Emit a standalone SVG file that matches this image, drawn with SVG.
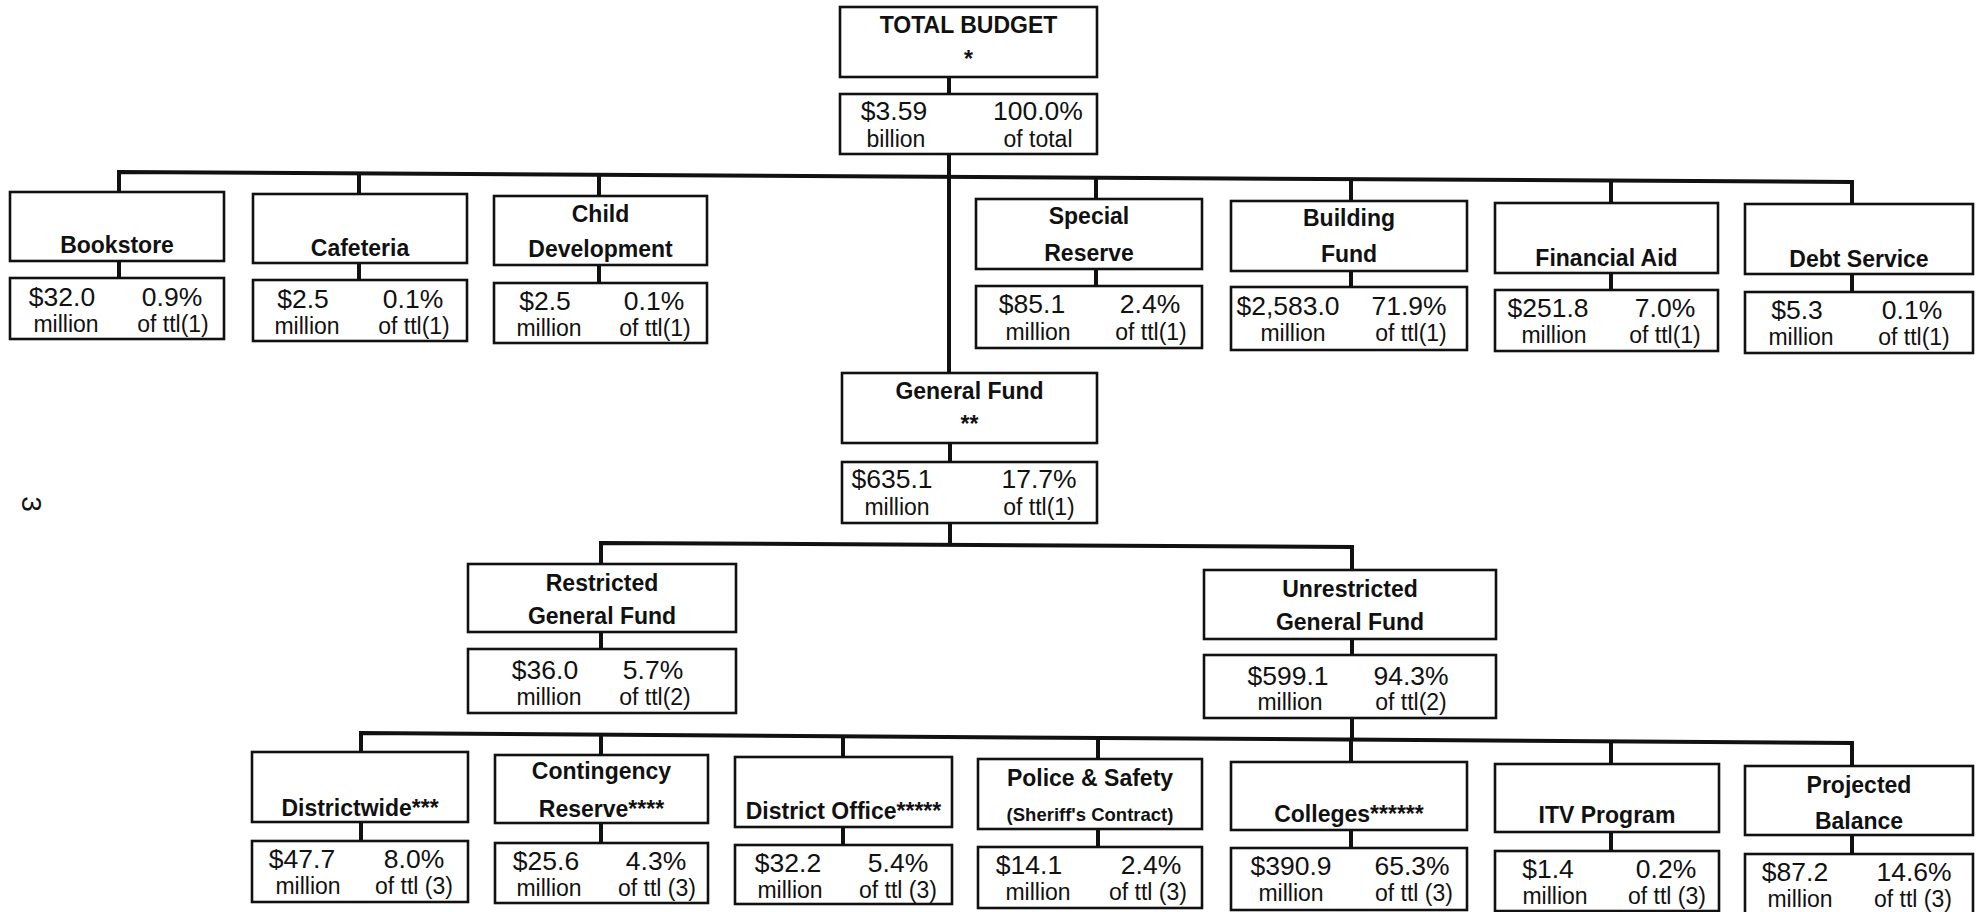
<svg xmlns="http://www.w3.org/2000/svg" width="1982" height="912" viewBox="0 0 1982 912">
<style>
.bg{fill:#fff}
.box{fill:#fff;stroke:#111;stroke-width:2.6}
.c{fill:none;stroke:#111;stroke-width:4;stroke-linejoin:miter}
text{font-family:"Liberation Sans",Arial,Helvetica,sans-serif;fill:#111;text-anchor:middle}
.t{font-weight:bold;font-size:23px}
.s{font-weight:bold;font-size:18.5px}
.v1{font-size:26.5px}
.v2{font-size:23px}
.pg{font-size:28px}
</style>
<rect class="bg" x="0" y="0" width="1982" height="912"/>

<g id="connectors">
  <path class="c" d="M949,77 V94"/>
  <path class="c" d="M949,154 V373"/>
  <path class="c" d="M119,192 V172 L1852,182 V204"/>
  <path class="c" d="M359,173.4 V194"/>
  <path class="c" d="M599,174.8 V196"/>
  <path class="c" d="M1096,177.6 V199"/>
  <path class="c" d="M1351,179.1 V201"/>
  <path class="c" d="M1611,180.6 V203"/>
  <path class="c" d="M119,261 V278"/>
  <path class="c" d="M359,263 V280"/>
  <path class="c" d="M599,265 V283"/>
  <path class="c" d="M1096,269 V286"/>
  <path class="c" d="M1351,271 V287"/>
  <path class="c" d="M1611,273 V290"/>
  <path class="c" d="M1852,274 V292"/>
  <path class="c" d="M950,443 V462"/>
  <path class="c" d="M950,523 V545"/>
  <path class="c" d="M601,564 V543 L1352,547 V570"/>
  <path class="c" d="M601,632 V649"/>
  <path class="c" d="M1352,639 V655"/>
  <path class="c" d="M1352,718 V740"/>
  <path class="c" d="M361,752 V733 L1852,743 V766"/>
  <path class="c" d="M601,734.6 V755"/>
  <path class="c" d="M843,736.2 V757"/>
  <path class="c" d="M1098,737.9 V759"/>
  <path class="c" d="M1351,739.6 V762"/>
  <path class="c" d="M1611,741.4 V764"/>
  <path class="c" d="M361,822 V841"/>
  <path class="c" d="M601,823 V843"/>
  <path class="c" d="M843,827 V845"/>
  <path class="c" d="M1098,829 V847"/>
  <path class="c" d="M1351,830 V848"/>
  <path class="c" d="M1611,832 V851"/>
  <path class="c" d="M1852,835 V854"/>
</g>

<g id="total-budget">
  <rect class="box" x="840" y="7" width="257" height="70"/>
  <text class="t" x="968.5" y="33">TOTAL BUDGET</text>
  <text class="t" x="968.5" y="67">*</text>
  <rect class="box" x="840" y="94" width="257" height="60"/>
  <text class="v1" x="894" y="120">$3.59</text>
  <text class="v1" x="1038" y="120">100.0%</text>
  <text class="v2" x="896" y="147">billion</text>
  <text class="v2" x="1038" y="147">of total</text>
</g>

<g id="bookstore">
  <rect class="box" x="10" y="192" width="214" height="69"/>
  <text class="t" x="117" y="253">Bookstore</text>
  <rect class="box" x="10" y="278" width="214" height="61"/>
  <text class="v1" x="62" y="306">$32.0</text>
  <text class="v1" x="172" y="306">0.9%</text>
  <text class="v2" x="66" y="332">million</text>
  <text class="v2" x="173" y="332">of ttl(1)</text>
</g>

<g id="cafeteria">
  <rect class="box" x="253" y="194" width="214" height="69"/>
  <text class="t" x="360" y="256">Cafeteria</text>
  <rect class="box" x="253" y="280" width="214" height="61"/>
  <text class="v1" x="303" y="308">$2.5</text>
  <text class="v1" x="413" y="308">0.1%</text>
  <text class="v2" x="307" y="334">million</text>
  <text class="v2" x="414" y="334">of ttl(1)</text>
</g>

<g id="child-development">
  <rect class="box" x="494" y="196" width="213" height="69"/>
  <text class="t" x="600.5" y="222">Child</text>
  <text class="t" x="600.5" y="257">Development</text>
  <rect class="box" x="494" y="283" width="213" height="60"/>
  <text class="v1" x="545" y="310">$2.5</text>
  <text class="v1" x="654" y="310">0.1%</text>
  <text class="v2" x="549" y="336">million</text>
  <text class="v2" x="655" y="336">of ttl(1)</text>
</g>

<g id="special-reserve">
  <rect class="box" x="976" y="199" width="226" height="70"/>
  <text class="t" x="1089" y="224">Special</text>
  <text class="t" x="1089" y="261">Reserve</text>
  <rect class="box" x="976" y="286" width="226" height="62"/>
  <text class="v1" x="1032" y="313">$85.1</text>
  <text class="v1" x="1150" y="313">2.4%</text>
  <text class="v2" x="1038" y="340">million</text>
  <text class="v2" x="1151" y="340">of ttl(1)</text>
</g>

<g id="building-fund">
  <rect class="box" x="1231" y="201" width="236" height="70"/>
  <text class="t" x="1349" y="226">Building</text>
  <text class="t" x="1349" y="262">Fund</text>
  <rect class="box" x="1231" y="287" width="236" height="63"/>
  <text class="v1" x="1288" y="315">$2,583.0</text>
  <text class="v1" x="1409" y="315">71.9%</text>
  <text class="v2" x="1293" y="341">million</text>
  <text class="v2" x="1411" y="341">of ttl(1)</text>
</g>

<g id="financial-aid">
  <rect class="box" x="1495" y="203" width="223" height="70"/>
  <text class="t" x="1606.5" y="266">Financial Aid</text>
  <rect class="box" x="1495" y="290" width="223" height="61"/>
  <text class="v1" x="1548" y="317">$251.8</text>
  <text class="v1" x="1665" y="317">7.0%</text>
  <text class="v2" x="1554" y="343">million</text>
  <text class="v2" x="1665" y="343">of ttl(1)</text>
</g>

<g id="debt-service">
  <rect class="box" x="1745" y="204" width="228" height="70"/>
  <text class="t" x="1859" y="267">Debt Service</text>
  <rect class="box" x="1745" y="292" width="228" height="61"/>
  <text class="v1" x="1797" y="319">$5.3</text>
  <text class="v1" x="1912" y="319">0.1%</text>
  <text class="v2" x="1801" y="345">million</text>
  <text class="v2" x="1914" y="345">of ttl(1)</text>
</g>

<g id="general-fund">
  <rect class="box" x="842" y="373" width="255" height="70"/>
  <text class="t" x="969.5" y="399">General Fund</text>
  <text class="t" x="969.5" y="432">**</text>
  <rect class="box" x="842" y="462" width="255" height="61"/>
  <text class="v1" x="892" y="488">$635.1</text>
  <text class="v1" x="1039" y="488">17.7%</text>
  <text class="v2" x="897" y="515">million</text>
  <text class="v2" x="1039" y="515">of ttl(1)</text>
</g>

<g id="restricted-general-fund">
  <rect class="box" x="468" y="564" width="268" height="68"/>
  <text class="t" x="602" y="591">Restricted</text>
  <text class="t" x="602" y="624">General Fund</text>
  <rect class="box" x="468" y="649" width="268" height="64"/>
  <text class="v1" x="545" y="679">$36.0</text>
  <text class="v1" x="653" y="679">5.7%</text>
  <text class="v2" x="549" y="705">million</text>
  <text class="v2" x="655" y="705">of ttl(2)</text>
</g>

<g id="unrestricted-general-fund">
  <rect class="box" x="1204" y="570" width="292" height="69"/>
  <text class="t" x="1350" y="597">Unrestricted</text>
  <text class="t" x="1350" y="630">General Fund</text>
  <rect class="box" x="1204" y="655" width="292" height="63"/>
  <text class="v1" x="1288" y="685">$599.1</text>
  <text class="v1" x="1411" y="685">94.3%</text>
  <text class="v2" x="1290" y="710">million</text>
  <text class="v2" x="1411" y="710">of ttl(2)</text>
</g>

<g id="districtwide">
  <rect class="box" x="252" y="752" width="216" height="70"/>
  <text class="t" x="360" y="816">Districtwide***</text>
  <rect class="box" x="252" y="841" width="216" height="61"/>
  <text class="v1" x="302" y="868">$47.7</text>
  <text class="v1" x="414" y="868">8.0%</text>
  <text class="v2" x="308" y="894">million</text>
  <text class="v2" x="414" y="894">of ttl (3)</text>
</g>

<g id="contingency-reserve">
  <rect class="box" x="495" y="755" width="213" height="68"/>
  <text class="t" x="601.5" y="779">Contingency</text>
  <text class="t" x="601.5" y="817">Reserve****</text>
  <rect class="box" x="495" y="843" width="213" height="60"/>
  <text class="v1" x="546" y="870">$25.6</text>
  <text class="v1" x="656" y="870">4.3%</text>
  <text class="v2" x="549" y="896">million</text>
  <text class="v2" x="657" y="896">of ttl (3)</text>
</g>

<g id="district-office">
  <rect class="box" x="735" y="757" width="217" height="70"/>
  <text class="t" x="843.5" y="819">District Office*****</text>
  <rect class="box" x="735" y="845" width="217" height="59"/>
  <text class="v1" x="788" y="872">$32.2</text>
  <text class="v1" x="898" y="872">5.4%</text>
  <text class="v2" x="790" y="898">million</text>
  <text class="v2" x="898" y="898">of ttl (3)</text>
</g>

<g id="police-safety">
  <rect class="box" x="978" y="759" width="224" height="70"/>
  <text class="t" x="1090" y="786">Police &amp; Safety</text>
  <text class="s" x="1090" y="821">(Sheriff's Contract)</text>
  <rect class="box" x="978" y="847" width="224" height="61"/>
  <text class="v1" x="1029" y="874">$14.1</text>
  <text class="v1" x="1151" y="874">2.4%</text>
  <text class="v2" x="1038" y="900">million</text>
  <text class="v2" x="1148" y="900">of ttl (3)</text>
</g>

<g id="colleges">
  <rect class="box" x="1231" y="762" width="236" height="68"/>
  <text class="t" x="1349" y="822">Colleges******</text>
  <rect class="box" x="1231" y="848" width="236" height="62"/>
  <text class="v1" x="1291" y="875">$390.9</text>
  <text class="v1" x="1412" y="875">65.3%</text>
  <text class="v2" x="1291" y="901">million</text>
  <text class="v2" x="1414" y="901">of ttl (3)</text>
</g>

<g id="itv-program">
  <rect class="box" x="1495" y="764" width="224" height="68"/>
  <text class="t" x="1607" y="823">ITV Program</text>
  <rect class="box" x="1495" y="851" width="224" height="60"/>
  <text class="v1" x="1548" y="878">$1.4</text>
  <text class="v1" x="1666" y="878">0.2%</text>
  <text class="v2" x="1555" y="904">million</text>
  <text class="v2" x="1667" y="904">of ttl (3)</text>
</g>

<g id="projected-balance">
  <rect class="box" x="1745" y="766" width="228" height="69"/>
  <text class="t" x="1859" y="793">Projected</text>
  <text class="t" x="1859" y="829">Balance</text>
  <rect class="box" x="1745" y="854" width="228" height="62"/>
  <text class="v1" x="1795" y="881">$87.2</text>
  <text class="v1" x="1914" y="881">14.6%</text>
  <text class="v2" x="1800" y="907">million</text>
  <text class="v2" x="1913" y="907">of ttl (3)</text>
</g>

<text class="pg" transform="translate(32,504) rotate(90)" x="0" y="10">3</text>
</svg>
